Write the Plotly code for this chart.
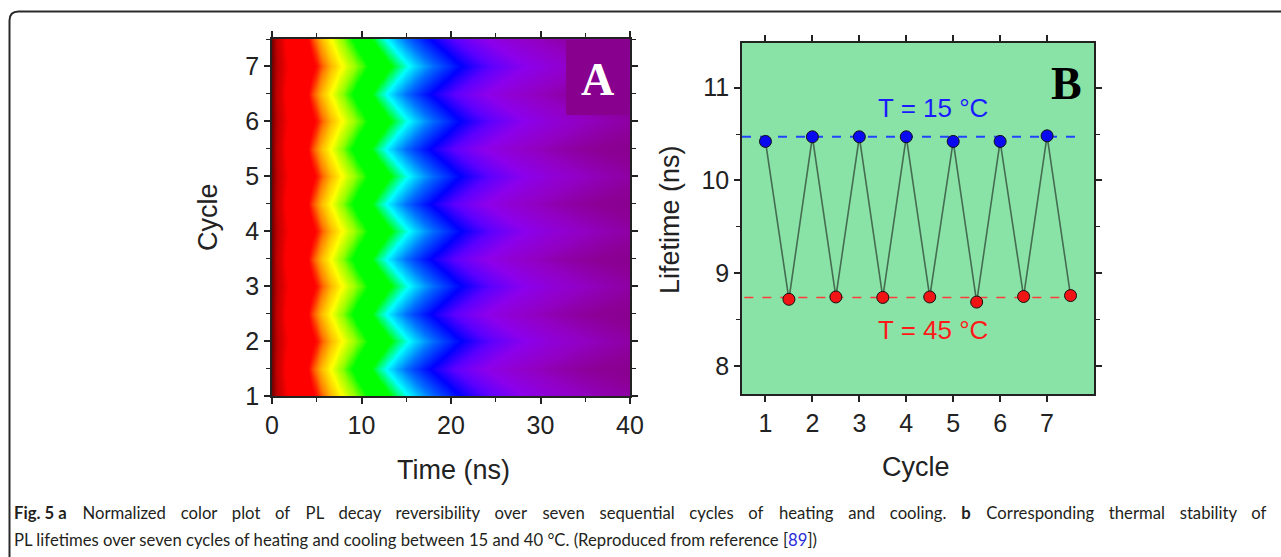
import numpy as np
import plotly.graph_objects as go

W, H = 1281, 557

# ---------------- data ----------------
# Panel B: lifetime over heating/cooling half-cycles
cycle_pos = [1, 1.5, 2, 2.5, 3, 3.5, 4, 4.5, 5, 5.5, 6, 6.5, 7, 7.5]
lifetime_ns = [10.42, 8.72, 10.47, 8.745, 10.47, 8.74, 10.47, 8.745,
               10.42, 8.69, 10.42, 8.75, 10.48, 8.76]
level_15C = 10.47
level_45C = 8.74

# Panel A: time axis of PL decay (ns)
time_ns = np.arange(0, 40.5, 0.5)

x_ticks_A = [0, 10, 20, 30, 40]
y_ticks_A = [1, 2, 3, 4, 5, 6, 7]
x_ticks_B = [1, 2, 3, 4, 5, 6, 7]
y_ticks_B = [8, 9, 10, 11]

# normalized decay map built from the measured lifetimes of each half-cycle
tau = np.array(lifetime_ns)[:, None]
decay = np.exp(-time_ns[None, :] / tau)

def px(x):
    return x / W

def py(y):
    return 1 - y / H

rainbow_base = [
    [0.00, "#840084"],
    [0.03, "#8c0096"],
    [0.06, "#9200c4"],
    [0.10, "#8c00ec"],
    [0.14, "#5a00ff"],
    [0.18, "#0000ff"],
    [0.235, "#0070ff"],
    [0.29, "#00ffff"],
    [0.34, "#00ff00"],
    [0.42, "#00ff00"],
    [0.47, "#90ff00"],
    [0.53, "#ffff00"],
    [0.58, "#ffc000"],
    [0.62, "#ff8000"],
    [0.66, "#ff2000"],
    [0.68, "#ff0000"],
    [0.86, "#ff0000"],
    [0.95, "#c00000"],
    [1.00, "#780000"],
]
rainbow = [[s ** 1.18, c] for s, c in rainbow_base]

fig = go.Figure()

fig.add_trace(go.Heatmap(
    x=time_ns, y=cycle_pos, z=decay, zmin=0, zmax=1,
    colorscale=rainbow, zsmooth="best", showscale=False,
    xaxis="x", yaxis="y", hoverinfo="skip"))

# Panel B
fig.add_trace(go.Scatter(
    x=[0.5, 7.6], y=[level_15C, level_15C], mode="lines",
    line=dict(color="#2244ff", width=2, dash="dash"),
    xaxis="x2", yaxis="y2", showlegend=False))
fig.add_trace(go.Scatter(
    x=[0.55, 7.6], y=[level_45C, level_45C], mode="lines",
    line=dict(color="#ff3b3b", width=1.6, dash="dash"),
    xaxis="x2", yaxis="y2", showlegend=False))
fig.add_trace(go.Scatter(
    x=cycle_pos, y=lifetime_ns, mode="lines",
    line=dict(color="rgba(60,95,72,0.9)", width=1.6),
    xaxis="x2", yaxis="y2", showlegend=False))
fig.add_trace(go.Scatter(
    x=cycle_pos[0::2], y=lifetime_ns[0::2], mode="markers",
    marker=dict(color="#0a0af0", size=12, line=dict(color="#111", width=1)),
    xaxis="x2", yaxis="y2", showlegend=False))
fig.add_trace(go.Scatter(
    x=cycle_pos[1::2], y=lifetime_ns[1::2], mode="markers",
    marker=dict(color="#f01414", size=12, line=dict(color="#111", width=1)),
    xaxis="x2", yaxis="y2", showlegend=False))

axis_common = dict(
    showline=True, linecolor="#222", linewidth=1.5, mirror="ticks",
    ticks="outside", ticklen=6, tickwidth=1.5, tickcolor="#222",
    showgrid=False, zeroline=False, automargin=False,
    tickfont=dict(family="Liberation Sans, Arial", size=25, color="#222"),
)

fig.update_layout(
    width=W, height=H, autosize=False,
    margin=dict(l=0, r=0, t=0, b=0, pad=0),
    paper_bgcolor="white", plot_bgcolor="#8ae3a6",
    showlegend=False,
    xaxis=dict(domain=[px(272), px(630)], range=[0, 40], tickvals=x_ticks_A,
               minor=dict(dtick=5, ticklen=4, tickwidth=1.2, ticks="outside", tickcolor="#222"),
               anchor="y", **axis_common),
    yaxis=dict(domain=[py(396), py(39)], range=[1, 7.5], tickvals=y_ticks_A,
               minor=dict(dtick=0.5, ticklen=4, tickwidth=1.2, ticks="outside", tickcolor="#222"),
               anchor="x", **axis_common),
    xaxis2=dict(domain=[px(742), px(1094)], range=[0.5, 8], tickvals=x_ticks_B,
                anchor="y2", **axis_common),
    yaxis2=dict(domain=[py(394), py(43)], range=[7.7, 11.48], tickvals=y_ticks_B,
                minor=dict(dtick=0.5, ticklen=4, tickwidth=1.2, ticks="outside", tickcolor="#222"),
                anchor="x2", **axis_common),
)

shapes = []
# darker box behind label A
shapes.append(dict(type="rect", xref="paper", yref="paper",
                   x0=px(566), x1=px(629), y0=py(115), y1=py(40),
                   fillcolor="#88008e", line=dict(width=0), layer="above"))
# rounded border of the figure frame (kept inside the paper)
r = 9
path = (f"M {px(9.5)},0 L {px(9.5)},{py(11.5 + r)} "
        f"Q {px(9.5)},{py(11.5)} {px(9.5 + r)},{py(11.5)} L 1,{py(11.5)}")
shapes.append(dict(type="path", xref="paper", yref="paper", path=path,
                   line=dict(color="#2a2a2a", width=2)))
fig.update_layout(shapes=shapes)

ann = []
def add_text(x, y, text, size, color="#222", family="Liberation Sans, Arial",
             angle=0, xanchor="center"):
    ann.append(dict(x=px(x), y=py(y), xref="paper", yref="paper", text=text,
                    showarrow=False, textangle=angle, xanchor=xanchor, yanchor="middle",
                    font=dict(size=size, color=color, family=family)))

add_text(597, 80, "<b>A</b>", 46, color="white", family="Liberation Serif, Times New Roman")
add_text(1066, 83, "<b>B</b>", 46, color="black", family="Liberation Serif, Times New Roman")
add_text(933, 108, "T = 15 °C", 26, color="#1a1aff")
add_text(933, 330, "T = 45 °C", 26, color="#ff1a1a")
add_text(208, 217, "Cycle", 27, angle=-90)
add_text(453, 470, "Time (ns)", 27)
add_text(670, 220, "Lifetime (ns)", 27, angle=-90)
add_text(916, 467, "Cycle", 27)

# caption (first line justified by widened word gaps)
cap_font = "Lato, Open Sans"
cap_size = 16.7
line1_words = ["<b>Fig. 5 a</b>", "Normalized", "color", "plot", "of", "PL", "decay",
               "reversibility", "over", "seven", "sequential", "cycles", "of", "heating",
               "and", "cooling.", "<b>b</b>", "Corresponding", "thermal", "stability", "of"]
line1 = line1_words[0]
for i, w in enumerate(line1_words[1:]):
    g = " \u2002\u200a\u200a" + ("\u200a" if i % 4 == 0 else "")
    line1 += g + w
add_text(12, 513, line1, cap_size, color="#231f20", family=cap_font, xanchor="left")
add_text(12, 540,
         "PL lifetimes over seven cycles of heating and cooling between 15 and 40 °C. "
         "(Reproduced from reference [<span style='color:#2b2bd9'>89</span>])",
         cap_size, color="#231f20", family=cap_font, xanchor="left")
fig.update_layout(annotations=ann)

fig.write_html("out.html")
